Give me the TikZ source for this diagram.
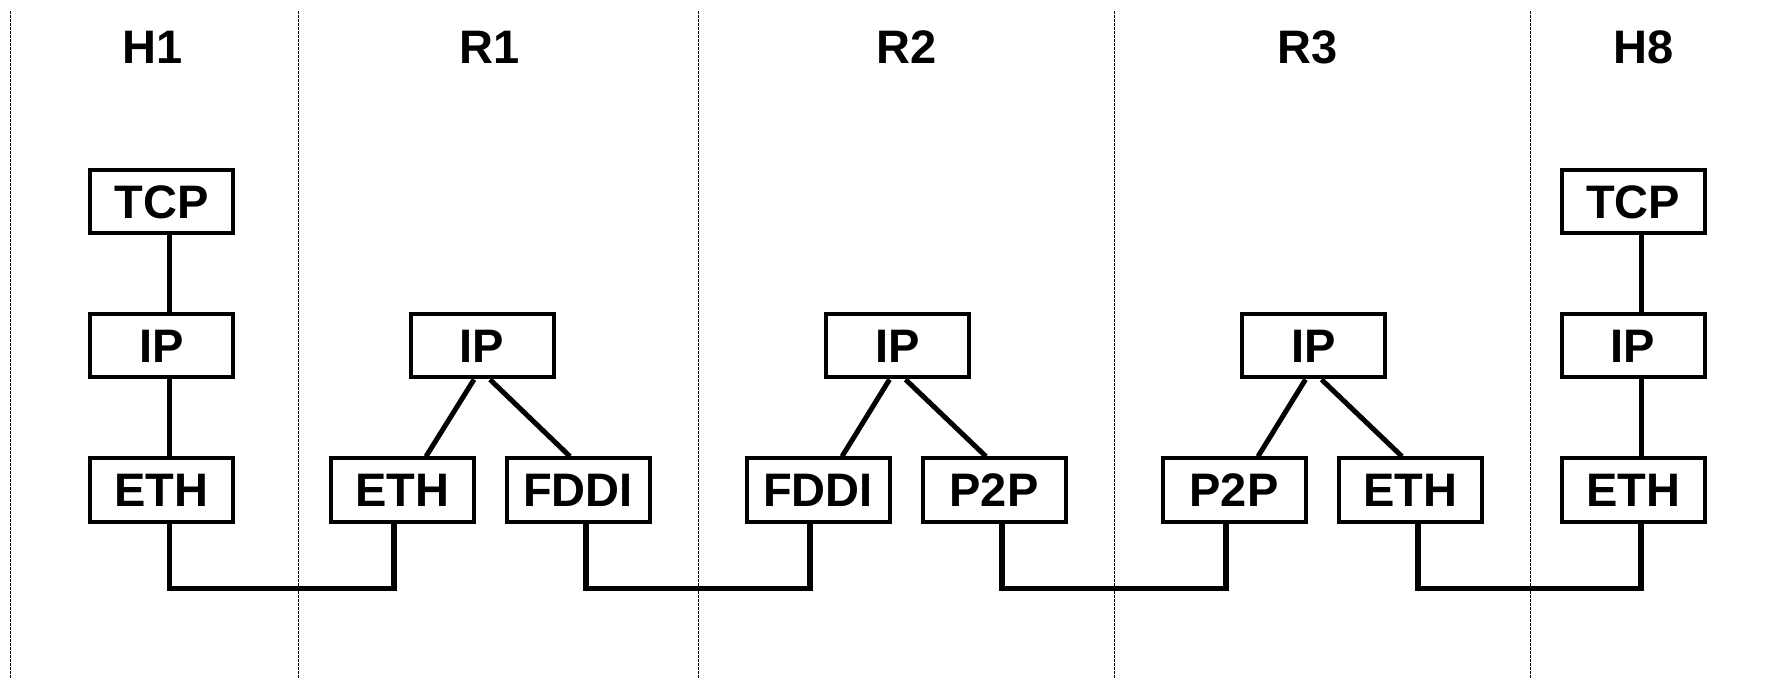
\documentclass[tikz,border=0pt]{standalone}
\usepackage{fontspec}
\setmainfont{Liberation Sans}
\begin{document}
\begin{tikzpicture}[x=0.5pt,y=-0.5pt,
  layer/.style={draw, line width=2pt, minimum width=71.5pt, minimum height=31.5pt,
    inner sep=0pt, font=\fontsize{23.5pt}{28pt}\selectfont\bfseries},
  title/.style={inner sep=0pt, font=\fontsize{23.5pt}{28pt}\selectfont\bfseries},
  link/.style={line width=2.5pt},
  bus/.style={line width=2.6pt, line join=miter},
  divider/.style={line width=0.6pt, dash pattern=on 1.4pt off 0.6pt}]
\useasboundingbox (0,0) rectangle (1783,678);

% column dividers
\foreach \x in {10.5,298.5,698.5,1114.5,1530.5}
  \draw[divider] (\x,11) -- (\x,678);

% column titles
\node[title] (tH1) at (153,47.5) {H1};
\node[title] (tR1) at (490,47.5) {R1};
\node[title] (tR2) at (907,47.5) {R2};
\node[title] (tR3) at (1307.5,47.5) {R3};
\node[title] (tH8) at (1643.5,47.5) {H8};

% host H1
\node[layer] (h1tcp) at (161.5,202) {TCP};
\node[layer] (h1ip)  at (161.5,346) {IP};
\node[layer] (h1eth) at (161.5,490) {ETH};

% router R1
\node[layer] (r1ip)   at (482,346) {IP};
\node[layer] (r1eth)  at (402,490) {ETH};
\node[layer] (r1fddi) at (578,490) {FDDI};

% router R2
\node[layer] (r2ip)   at (897.5,346) {IP};
\node[layer] (r2fddi) at (818,490) {FDDI};
\node[layer] (r2p2p)  at (994,490) {P2P};

% router R3
\node[layer] (r3ip)   at (1313.5,346) {IP};
\node[layer] (r3p2p)  at (1234,490) {P2P};
\node[layer] (r3eth)  at (1410,490) {ETH};

% host H8
\node[layer] (h8tcp) at (1633,202) {TCP};
\node[layer] (h8ip)  at (1633,346) {IP};
\node[layer] (h8eth) at (1633,490) {ETH};

% protocol stacks inside the hosts
\draw[link] ([xshift=4pt]h1tcp.south) -- ([xshift=4pt]h1ip.north);
\draw[link] ([xshift=4pt]h1ip.south) -- ([xshift=4pt]h1eth.north);
\draw[link] ([xshift=4pt]h8tcp.south) -- ([xshift=4pt]h8ip.north);
\draw[link] ([xshift=4pt]h8ip.south) -- ([xshift=4pt]h8eth.north);

% IP fan-out inside the routers
\foreach \ip/\lft/\rgt in {r1ip/r1eth/r1fddi, r2ip/r2fddi/r2p2p, r3ip/r3p2p/r3eth}{
  \draw[link] ([xshift=-4pt]\ip.south) -- ([xshift=12pt]\lft.north);
  \draw[link] ([xshift=4pt]\ip.south) -- ([xshift=-4pt]\rgt.north);
}

% physical links between neighbours
\foreach \a/\b/\s in {h1eth/r1eth/-4pt, r1fddi/r2fddi/-4pt, r2p2p/r3p2p/-4pt, r3eth/h8eth/4pt}
  \draw[bus] ([xshift=4pt]\a.south) -- ++(0,65) -| ([xshift=\s]\b.south);
\end{tikzpicture}
\end{document}
